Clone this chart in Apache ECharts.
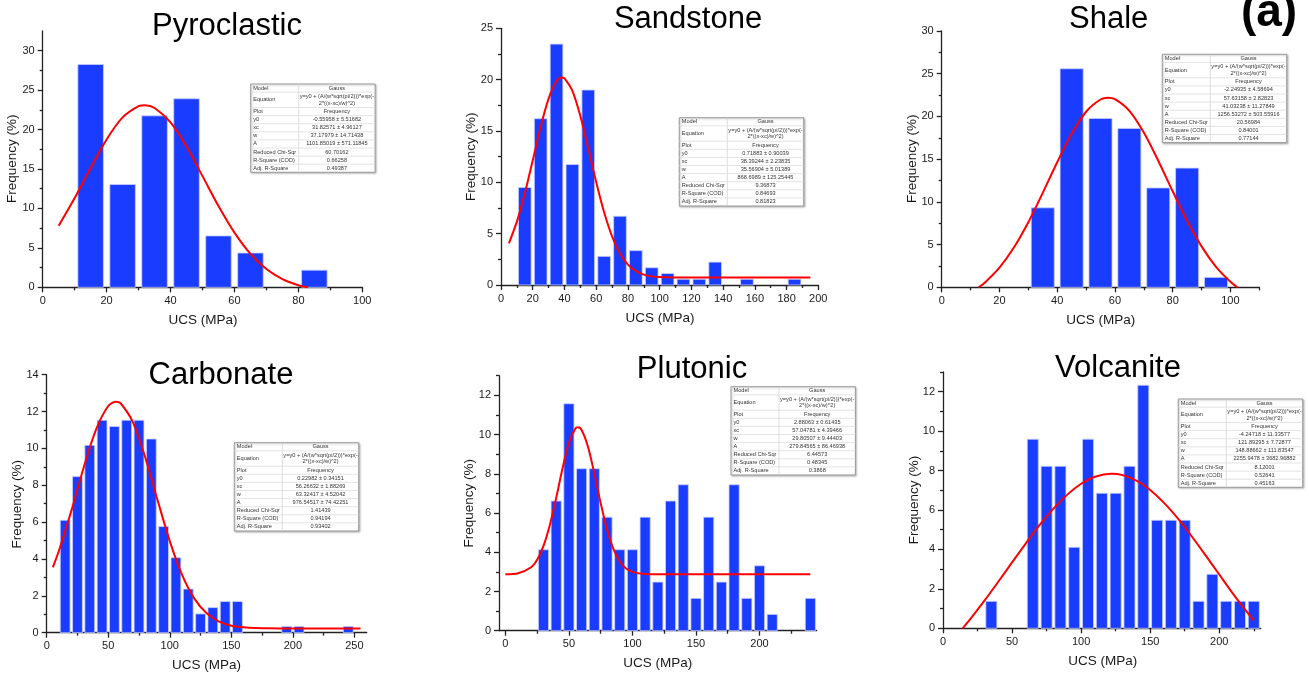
<!DOCTYPE html>
<html>
<head>
<meta charset="utf-8">
<script src="https://cdn.jsdelivr.net/npm/echarts@6/dist/echarts.min.js"></script>
<style>
html,body{margin:0;padding:0;background:#fff;}
#chart{width:1309px;height:676px;}
</style>
</head>
<body>
<div id="chart"></div>
<script>
// ---------------- DATA ----------------
const panelNames = ['Pyroclastic', 'Sandstone', 'Shale', 'Carbonate', 'Plutonic', 'Volcanite'];
const xAxisName = 'UCS (MPa)';
const yAxisName = 'Frequency (%)';
const panelTag = '(a)';

// histogram bin centres and frequencies (%)
const pyroBins = [15, 25, 35, 45, 55, 65, 75, 85];
const pyroFreq = [28.26, 13.04, 21.74, 23.91, 6.52, 4.35, 0, 2.17];
const sandBins = [15, 25, 35, 45, 55, 65, 75, 85, 95, 105, 115, 125, 135, 145, 155, 165, 175, 185];
const sandFreq = [9.50, 16.20, 23.46, 11.73, 18.99, 2.79, 6.70, 3.35, 1.68, 1.12, 0.56, 0.56, 2.23, 0, 0.56, 0, 0, 0.56];
const shaleBins = [35, 45, 55, 65, 75, 85, 95];
const shaleFreq = [9.30, 25.58, 19.77, 18.60, 11.63, 13.95, 1.16];
const carbBins = [15, 25, 35, 45, 55, 65, 75, 85, 95, 105, 115, 125, 135, 145, 155, 165, 175, 185, 195, 205, 215, 225, 235, 245];
const carbFreq = [6.10, 8.47, 10.17, 11.53, 11.19, 11.53, 11.53, 10.51, 5.76, 4.07, 2.37, 1.02, 1.36, 1.69, 1.69, 0, 0, 0, 0.34, 0.34, 0, 0, 0, 0.34];
const plutBins = [30, 40, 50, 60, 70, 80, 90, 100, 110, 120, 130, 140, 150, 160, 170, 180, 190, 200, 210, 220, 230, 240];
const plutFreq = [4.13, 6.61, 11.57, 8.26, 8.26, 5.79, 4.13, 4.13, 5.79, 2.48, 6.61, 7.44, 1.65, 5.79, 2.48, 7.44, 1.65, 3.31, 0.83, 0, 0, 1.65];
const volcBins = [35, 45, 55, 65, 75, 85, 95, 105, 115, 125, 135, 145, 155, 165, 175, 185, 195, 205, 215, 225];
const volcFreq = [1.37, 0, 0, 9.59, 8.22, 8.22, 4.11, 9.59, 6.85, 6.85, 8.22, 12.33, 5.48, 5.48, 5.48, 1.37, 2.74, 1.37, 1.37, 1.37];

// Gauss fit curves
const pyroFitX = [5, 10, 15, 20, 25, 30, 32, 35, 40, 45, 50, 55, 60, 65, 70, 75, 80, 83];
const pyroFitY = [7.79, 11.31, 15.14, 18.75, 21.54, 22.97, 23.09, 22.74, 20.91, 17.84, 14.10, 10.31, 6.94, 4.25, 2.31, 1.03, 0.26, 0];
const sandFitX = [5, 10, 15, 20, 25, 30, 35, 38.4, 40, 45, 50, 55, 60, 65, 70, 75, 80, 85, 90, 95, 100, 110, 120, 195];
const sandFitY = [4.06, 6.17, 8.92, 12.13, 15.40, 18.15, 19.86, 20.21, 20.13, 18.91, 16.47, 13.32, 10.03, 7.08, 4.74, 3.06, 1.98, 1.35, 1.01, 0.84, 0.77, 0.73, 0.72, 0.72];
const shaleFitX = [12.8, 15, 20, 25, 30, 35, 40, 45, 50, 55, 57.6, 60, 65, 70, 75, 80, 85, 90, 95, 100, 102.4];
const shaleFitY = [0, 0.57, 2.30, 4.65, 7.61, 11.05, 14.64, 17.96, 20.55, 21.98, 22.18, 22.02, 20.66, 18.12, 14.82, 11.24, 7.79, 4.79, 2.40, 0.65, 0];
const carbFitX = [5, 10, 20, 30, 40, 50, 56.3, 60, 70, 80, 90, 100, 110, 120, 130, 140, 150, 160, 170, 180, 200, 255];
const carbFitY = [3.55, 4.46, 6.61, 8.95, 11.01, 12.30, 12.53, 12.45, 11.43, 9.52, 7.21, 4.97, 3.14, 1.85, 1.05, 0.60, 0.38, 0.29, 0.25, 0.24, 0.23, 0.23];
const plutFitX = [0, 10, 20, 25, 30, 35, 40, 45, 50, 55, 57, 60, 65, 70, 75, 80, 85, 90, 95, 100, 110, 120, 240];
const plutFitY = [2.88, 2.93, 3.22, 3.62, 4.32, 5.39, 6.77, 8.28, 9.58, 10.30, 10.37, 10.23, 9.38, 8.02, 6.51, 5.17, 4.17, 3.53, 3.17, 3.00, 2.89, 2.88, 2.88];
const volcFitX = [14.2, 20, 30, 40, 50, 60, 70, 80, 90, 100, 110, 121.9, 130, 140, 150, 160, 170, 180, 190, 200, 210, 220, 225];
const volcFitY = [0, 0.49, 1.40, 2.36, 3.34, 4.31, 5.24, 6.07, 6.78, 7.33, 7.69, 7.84, 7.77, 7.49, 7.01, 6.36, 5.57, 4.67, 3.71, 2.73, 1.75, 0.83, 0.39];

// tick labels (major) and minor tick positions
const pyroXTicks = [0, 20, 40, 60, 80, 100];
const pyroXMinor = [10, 30, 50, 70, 90];
const pyroYTicks = [0, 5, 10, 15, 20, 25, 30];
const pyroYMinor = [2.5, 7.5, 12.5, 17.5, 22.5, 27.5];
const sandXTicks = [0, 20, 40, 60, 80, 100, 120, 140, 160, 180, 200];
const sandXMinor = [10, 30, 50, 70, 90, 110, 130, 150, 170, 190];
const sandYTicks = [0, 5, 10, 15, 20, 25];
const sandYMinor = [2.5, 7.5, 12.5, 17.5, 22.5];
const shaleXTicks = [0, 20, 40, 60, 80, 100];
const shaleXMinor = [10, 30, 50, 70, 90, 110];
const shaleYTicks = [0, 5, 10, 15, 20, 25, 30];
const shaleYMinor = [2.5, 7.5, 12.5, 17.5, 22.5, 27.5];
const carbXTicks = [0, 50, 100, 150, 200, 250];
const carbXMinor = [25, 75, 125, 175, 225];
const carbYTicks = [0, 2, 4, 6, 8, 10, 12, 14];
const carbYMinor = [1, 3, 5, 7, 9, 11, 13];
const plutXTicks = [0, 50, 100, 150, 200];
const plutXMinor = [25, 75, 125, 175, 225];
const plutYTicks = [0, 2, 4, 6, 8, 10, 12];
const plutYMinor = [1, 3, 5, 7, 9, 11, 13];
const volcXTicks = [0, 50, 100, 150, 200];
const volcXMinor = [25, 75, 125, 175, 225];
const volcYTicks = [0, 2, 4, 6, 8, 10, 12];
const volcYMinor = [1, 3, 5, 7, 9, 11, 13];

// axis ranges
const xRanges = [[0, 100], [0, 200], [0, 110], [0, 260], [-5, 245], [0, 230]];
const yRanges = [[0, 32.5], [0, 25], [0, 30], [0, 14], [0, 13], [0, 13]];

// fit report tables
const tableLabels = ['Model', 'Equation', 'Plot', 'y0', 'xc', 'w', 'A', 'Reduced Chi-Sqr', 'R-Square (COD)', 'Adj. R-Square'];
const tableModel = 'Gauss';
const tableEquation = ['y=y0 + (A/(w*sqrt(pi/2)))*exp(-', '2*((x-xc)/w)^2)'];
const tablePlot = 'Frequency';
const pyroStats = ['-0.55958 ± 5.51682', '31.82571 ± 4.96127', '37.17979 ± 14.71438', '1101.85019 ± 571.11845', '60.70162', '0.66258', '0.49387'];
const sandStats = ['0.71883 ± 0.90039', '38.39244 ± 2.23835', '35.56904 ± 5.01389', '868.6989 ± 125.25445', '9.36873', '0.84693', '0.81823'];
const shaleStats = ['-2.24935 ± 4.58694', '57.63158 ± 2.82823', '41.03238 ± 11.27849', '1256.53272 ± 503.55916', '20.56984', '0.84001', '0.77144'];
const carbStats = ['0.22982 ± 0.34151', '56.26632 ± 1.88269', '63.32417 ± 4.52042', '976.54517 ± 74.42251', '1.41439', '0.94194', '0.93402'];
const plutStats = ['2.88063 ± 0.61435', '57.04781 ± 4.39466', '29.80507 ± 9.44403', '279.84565 ± 86.46938', '6.44573', '0.48345', '0.3868'];
const volcStats = ['-4.24718 ± 11.33577', '121.89295 ± 7.72877', '148.88662 ± 111.83547', '2255.9478 ± 3682.96882', '8.12001', '0.52641', '0.45163'];

// ---------------- LAYOUT ----------------
const FONT = "'Liberation Sans', Arial, Helvetica, sans-serif";
const BLUE = '#1a3cff';
const RED = '#ff0000';
const AXIS = '#222222';

const layout = [
  {grid: [42.7, 31, 362.3, 287.3], title: [227, 26.5], xname: [203, 320], yname: [12.5, 158.7], table: [250.7, 84]},
  {grid: [501, 28.3, 818.3, 285], title: [688, 19.9], xname: [660, 317.8], yname: [471.7, 156.7], table: [679.3, 117.7]},
  {grid: [941.7, 31, 1259.3, 287.3], title: [1108.7, 19.9], xname: [1100.8, 320], yname: [912.2, 158.7], table: [1162.3, 54.3]},
  {grid: [46.7, 374.7, 366.7, 632.7], title: [221, 375.9], xname: [206.5, 665.5], yname: [17, 504.2], table: [234.3, 442.7]},
  {grid: [499, 375.7, 816.7, 630.7], title: [692, 369.9], xname: [657.8, 663.3], yname: [469.2, 503.3], table: [731, 386.7]},
  {grid: [943, 372, 1260.7, 628.3], title: [1118, 368.5], xname: [1102.8, 661.7], yname: [913.8, 500], table: [1178.3, 399]}
];

const binsAll = [pyroBins, sandBins, shaleBins, carbBins, plutBins, volcBins];
const freqAll = [pyroFreq, sandFreq, shaleFreq, carbFreq, plutFreq, volcFreq];
const fitXAll = [pyroFitX, sandFitX, shaleFitX, carbFitX, plutFitX, volcFitX];
const fitYAll = [pyroFitY, sandFitY, shaleFitY, carbFitY, plutFitY, volcFitY];
const xTicksAll = [pyroXTicks, sandXTicks, shaleXTicks, carbXTicks, plutXTicks, volcXTicks];
const xMinorAll = [pyroXMinor, sandXMinor, shaleXMinor, carbXMinor, plutXMinor, volcXMinor];
const yTicksAll = [pyroYTicks, sandYTicks, shaleYTicks, carbYTicks, plutYTicks, volcYTicks];
const yMinorAll = [pyroYMinor, sandYMinor, shaleYMinor, carbYMinor, plutYMinor, volcYMinor];
const statsAll = [pyroStats, sandStats, shaleStats, carbStats, plutStats, volcStats];

const BAR_HALF = 4; // half bar width in data units (bins are 10 wide)

const grids = [], xAxes = [], yAxes = [], series = [], graphics = [];

layout.forEach((L, i) => {
  const [l, t, r, b] = L.grid;
  grids.push({left: l, top: t, width: r - l, height: b - t, containLabel: false});
  const lineStyle = {color: AXIS, width: 1.3};
  const labelStyle = {color: '#1a1a1a', fontSize: 11, fontFamily: FONT};
  // major x
  xAxes.push({
    gridIndex: i, type: 'value', position: 'bottom', min: xRanges[i][0], max: xRanges[i][1],
    axisLine: {show: true, onZero: false, lineStyle},
    axisTick: {show: true, length: 5, lineStyle, customValues: xTicksAll[i]},
    axisLabel: Object.assign({margin: 8, customValues: xTicksAll[i]}, labelStyle),
    splitLine: {show: false}
  });
  // minor x
  xAxes.push({
    gridIndex: i, type: 'value', position: 'bottom', min: xRanges[i][0], max: xRanges[i][1],
    axisLine: {show: false, onZero: false},
    axisTick: {show: true, length: 3, lineStyle, customValues: xMinorAll[i]},
    axisLabel: {show: false},
    splitLine: {show: false}
  });
  yAxes.push({
    gridIndex: i, type: 'value', position: 'left', min: yRanges[i][0], max: yRanges[i][1],
    axisLine: {show: true, onZero: false, lineStyle},
    axisTick: {show: true, length: 5, lineStyle, customValues: yTicksAll[i]},
    axisLabel: Object.assign({margin: 8, customValues: yTicksAll[i]}, labelStyle),
    splitLine: {show: false}
  });
  yAxes.push({
    gridIndex: i, type: 'value', position: 'left', min: yRanges[i][0], max: yRanges[i][1],
    axisLine: {show: false, onZero: false},
    axisTick: {show: true, length: 3, lineStyle, customValues: yMinorAll[i]},
    axisLabel: {show: false},
    splitLine: {show: false}
  });

  const barData = binsAll[i].map((x, k) => [x, freqAll[i][k]]).filter(d => d[1] > 0);
  series.push({
    type: 'custom', xAxisIndex: 2 * i, yAxisIndex: 2 * i, z: 2,
    data: barData,
    renderItem: function (params, api) {
      const x = api.value(0), y = api.value(1);
      const p0 = api.coord([x - BAR_HALF, y]);
      const p1 = api.coord([x + BAR_HALF, 0]);
      return {
        type: 'rect',
        shape: {x: p0[0], y: p0[1], width: p1[0] - p0[0], height: p1[1] - p0[1]},
        style: {fill: BLUE, stroke: '#c9d2ff', lineWidth: 0.8}
      };
    }
  });
  series.push({
    type: 'line', xAxisIndex: 2 * i, yAxisIndex: 2 * i, z: 3,
    data: fitXAll[i].map((x, k) => [x, fitYAll[i][k]]),
    showSymbol: false, symbol: 'none', smooth: 0.3,
    lineStyle: {color: RED, width: 2},
    silent: true
  });

  // title
  graphics.push({type: 'text', silent: true, style: {
    text: panelNames[i], x: L.title[0], y: L.title[1], textAlign: 'center', textVerticalAlign: 'middle',
    fill: '#000', fontSize: 31, fontFamily: FONT}});
  // axis names
  graphics.push({type: 'text', silent: true, style: {
    text: xAxisName, x: L.xname[0], y: L.xname[1], textAlign: 'center', textVerticalAlign: 'middle',
    fill: '#1a1a1a', fontSize: 13.5, fontFamily: FONT}});
  graphics.push({type: 'text', silent: true, x: L.yname[0], y: L.yname[1], rotation: Math.PI / 2, style: {
    text: yAxisName, x: 0, y: 0, textAlign: 'center', textVerticalAlign: 'middle',
    fill: '#1a1a1a', fontSize: 13.5, fontFamily: FONT}});

  // fit table
  const [tx, ty] = L.table;
  const TW = 124.4, DIV = 48;
  const rowH = [8.1, 15.4, 8.1, 8.1, 8.1, 8.1, 8.1, 8.1, 8.1, 8.1];
  const TH = rowH.reduce((a, c) => a + c, 0);
  const right = [tableModel, null, tablePlot].concat(statsAll[i]);
  graphics.push({type: 'rect', silent: true, z: 10, shape: {x: tx, y: ty, width: TW, height: TH},
    style: {fill: '#fff', stroke: '#9a9a9a', lineWidth: 1, shadowBlur: 2, shadowColor: 'rgba(0,0,0,0.25)', shadowOffsetX: 1, shadowOffsetY: 1}});
  graphics.push({type: 'line', silent: true, z: 11, shape: {x1: tx + DIV, y1: ty, x2: tx + DIV, y2: ty + TH},
    style: {stroke: '#d4d4d4', lineWidth: 0.8}});
  let yy = ty;
  rowH.forEach((h, k) => {
    if (k > 0) {
      graphics.push({type: 'line', silent: true, z: 11, shape: {x1: tx, y1: yy, x2: tx + TW, y2: yy},
        style: {stroke: '#dcdcdc', lineWidth: 0.8}});
    }
    graphics.push({type: 'text', silent: true, z: 12, style: {
      text: tableLabels[k], x: tx + 2.5, y: yy + h / 2, textAlign: 'left', textVerticalAlign: 'middle',
      fill: '#333', fontSize: 5.6, fontFamily: FONT}});
    if (k === 1) {
      graphics.push({type: 'text', silent: true, z: 12, style: {
        text: tableEquation[0], x: tx + DIV + (TW - DIV) / 2, y: yy + h / 2 - 3.3, textAlign: 'center', textVerticalAlign: 'middle',
        fill: '#333', fontSize: 5.6, fontFamily: FONT}});
      graphics.push({type: 'text', silent: true, z: 12, style: {
        text: tableEquation[1], x: tx + DIV + (TW - DIV) / 2, y: yy + h / 2 + 3.3, textAlign: 'center', textVerticalAlign: 'middle',
        fill: '#333', fontSize: 5.6, fontFamily: FONT}});
    } else {
      graphics.push({type: 'text', silent: true, z: 12, style: {
        text: right[k], x: tx + DIV + (TW - DIV) / 2, y: yy + h / 2, textAlign: 'center', textVerticalAlign: 'middle',
        fill: '#333', fontSize: 5.6, fontFamily: FONT}});
    }
    yy += h;
  });
});

// panel tag
graphics.push({type: 'text', silent: true, style: {
  text: panelTag, x: 1269, y: 13, textAlign: 'center', textVerticalAlign: 'middle',
  fill: '#000', fontSize: 46, fontWeight: 'bold', fontFamily: FONT}});

const chart = echarts.init(document.getElementById('chart'), null, {renderer: 'canvas'});
chart.setOption({
  backgroundColor: '#ffffff',
  animation: false,
  grid: grids,
  xAxis: xAxes,
  yAxis: yAxes,
  series: series,
  graphic: {elements: graphics}
});
</script>
</body>
</html>
